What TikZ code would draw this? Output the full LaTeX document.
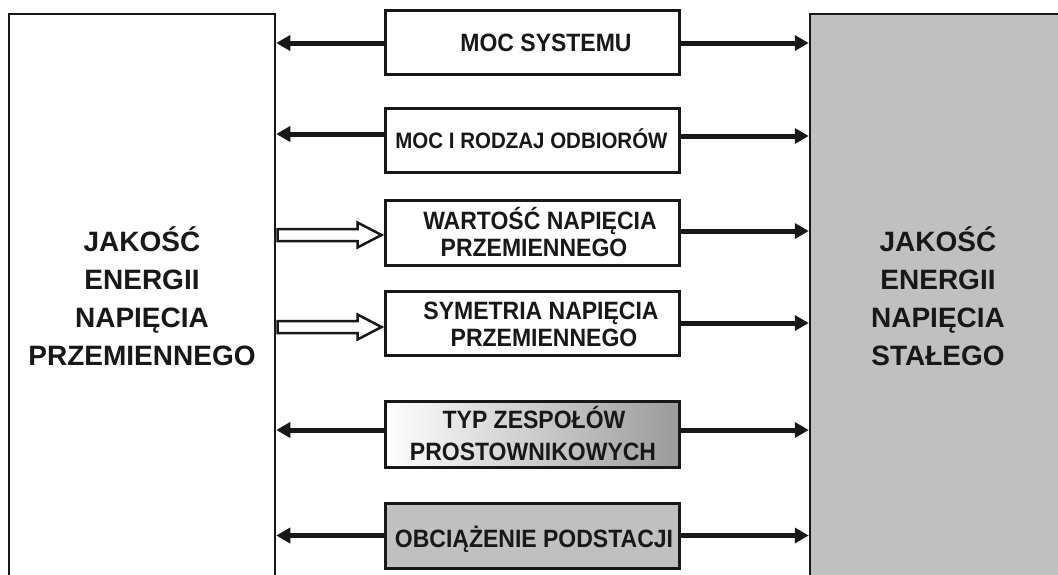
\documentclass[tikz,border=0pt]{standalone}
\usepackage{fontspec}
\setmainfont{Liberation Sans}
\usetikzlibrary{arrows.meta,calc}
\definecolor{boxgray}{RGB}{192,192,192}
\definecolor{shadegray}{RGB}{155,155,155}
\definecolor{ink}{RGB}{24,24,24}
\newcommand{\tallt}[1]{\scalebox{1}[1.09]{#1}}
\begin{document}
\begin{tikzpicture}[x=1pt,y=-1pt,
  bigbox/.style={draw=ink,line width=2.5pt,inner sep=0pt},
  midbox/.style={draw=ink,line width=3pt,inner sep=0pt,minimum width=294pt},
  arr/.style={draw=ink,line width=5pt,-{Triangle[length=14pt,width=15pt]}},
  hollow/.style={draw=ink,line width=2.5pt,fill=white,line join=miter},
  bigtxt/.style={font=\fontsize{28}{34}\selectfont\bfseries,text=ink,anchor=base,inner sep=0pt},
  midtxt/.style={font=\fontsize{23}{28}\selectfont\bfseries,text=ink,anchor=base,inner sep=0pt},
  smalltxt/.style={font=\fontsize{20.5}{25}\selectfont\bfseries,text=ink,anchor=base,inner sep=0pt}]
\useasboundingbox (0,0) rectangle (1058,574);
\fill[white] (0,0) rectangle (1058,574);

% big blocks
\node[bigbox,fill=white,minimum width=266pt,minimum height=600pt] (L) at (142,314) {};
\node[bigbox,fill=boxgray,minimum width=300pt,minimum height=600pt] (R) at (960,314) {};

% middle blocks
\node[midbox,fill=white,minimum height=64pt] (B1) at (532,42) {};
\node[midbox,fill=white,minimum height=64pt] (B2) at (532,140) {};
\node[midbox,fill=white,minimum height=65pt] (B3) at (532,232.5) {};
\node[midbox,fill=white,minimum height=64pt] (B4) at (532,323) {};
\node[midbox,left color=white,right color=shadegray,minimum height=66pt] (B5) at (532,434) {};
\node[midbox,fill=boxgray,minimum height=65pt] (B6) at (532,535.5) {};

% texts
\node[bigtxt] (l1) at (142,251) {JAKOŚĆ};
\node[bigtxt] (l2) at (142,289) {ENERGII};
\node[bigtxt] (l3) at (142,327) {NAPIĘCIA};
\node[bigtxt] (l4) at (142,365) {PRZEMIENNEGO};
\node[bigtxt] (r1) at (938,251) {JAKOŚĆ};
\node[bigtxt] (r2) at (938,289) {ENERGII};
\node[bigtxt] (r3) at (938,327) {NAPIĘCIA};
\node[bigtxt] (r4) at (938,365) {STAŁEGO};

\node[midtxt] (t1) at (546,51) {\tallt{MOC SYSTEMU}};
\node[smalltxt] (t2) at (531.5,148) {\tallt{MOC I RODZAJ ODBIORÓW}};
\node[midtxt] (t3a) at (540,229) {\tallt{WARTOŚĆ NAPIĘCIA}};
\node[midtxt] (t3b) at (534,256) {\tallt{PRZEMIENNEGO}};
\node[midtxt] (t4a) at (541,319) {\tallt{SYMETRIA NAPIĘCIA}};
\node[midtxt] (t4b) at (544,346) {\tallt{PRZEMIENNEGO}};
\node[midtxt] (t5a) at (534,428) {\tallt{TYP ZESPOŁÓW}};
\node[midtxt] (t5b) at (533,460) {\tallt{PROSTOWNIKOWYCH}};
\node[midtxt] (t6) at (534,547) {\tallt{OBCIĄŻENIE PODSTACJI}};

% connector anchors
\coordinate (a1) at ([yshift=-1pt]B1.west);
\coordinate (b1) at ([yshift=-1pt]B1.east);
\coordinate (a2) at ([yshift=6pt]B2.west);
\coordinate (b2) at ([yshift=4pt]B2.east);
\coordinate (b3) at ([yshift=1.5pt]B3.east);
\coordinate (b4) at (B4.east);
\coordinate (a5) at ([yshift=4pt]B5.west);
\coordinate (b5) at ([yshift=4pt]B5.east);
\coordinate (a6) at (B6.west);
\coordinate (b6) at (B6.east);
\coordinate (h3) at ([xshift=-2pt,yshift=-2.5pt]B3.west);
\coordinate (h4) at ([xshift=-2pt,yshift=-4pt]B4.west);

% arrows to the left block
\draw[arr] (a1) -- (a1 -| L.east);
\draw[arr] (a2) -- (a2 -| L.east);
\draw[arr] (a5) -- (a5 -| L.east);
\draw[arr] (a6) -- (a6 -| L.east);

% arrows to the right block
\draw[arr] (b1) -- (b1 -| R.west);
\draw[arr] (b2) -- (b2 -| R.west);
\draw[arr] (b3) -- (b3 -| R.west);
\draw[arr] (b4) -- (b4 -| R.west);
\draw[arr] (b5) -- (b5 -| R.west);
\draw[arr] (b6) -- (b6 -| R.west);

% hollow arrows from the left block
\draw[hollow] (h3) -- ++(-24,-12.5) -- ++(0,6.5) -- ++(-80,0) -- ++(0,12) -- ++(80,0) -- ++(0,6.5) -- cycle;
\draw[hollow] (h4) -- ++(-24,-12.5) -- ++(0,6.5) -- ++(-80,0) -- ++(0,12) -- ++(80,0) -- ++(0,6.5) -- cycle;
\end{tikzpicture}
\end{document}
